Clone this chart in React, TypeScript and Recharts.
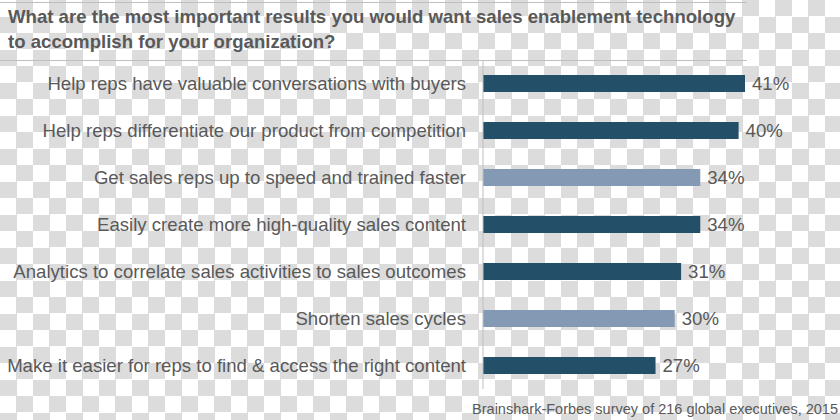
import React from 'react';
import { Bar, BarChart, Cell, LabelList, XAxis, YAxis } from 'recharts';

const categories = [
    'Help reps have valuable conversations with buyers',
    'Help reps differentiate our product from competition',
    'Get sales reps up to speed and trained faster',
    'Easily create more high-quality sales content',
    'Analytics to correlate sales activities to sales outcomes',
    'Shorten sales cycles',
    'Make it easier for reps to find & access the right content',
];
const shares = [41, 40, 34, 34, 31, 30, 27];
const lightRows = ['Get sales reps up to speed and trained faster', 'Shorten sales cycles'];

const titleLines = [
    'What are the most important results you would want sales enablement technology',
    'to accomplish for your organization?',
];
const sourceNote = 'Brainshark-Forbes survey of 216 global executives, 2015';

const DARK = '#244f69';
const LIGHT = '#8499b3';
const TEXT = '#595959';
const RULE = '#bfbfbf';
const FONT = '"Liberation Sans", Arial, sans-serif';

const data = categories.map((name, i) => ({ name, value: shares[i] }));

const App = () => {
    return (
        <div
            style={{
                position: 'relative',
                width: 840,
                height: 420,
                overflow: 'hidden',
                fontFamily: FONT,
                backgroundColor: '#ffffff',
                backgroundImage:
                    'repeating-conic-gradient(#dcdcdc 0% 25%, #ffffff 0% 50%)',
                backgroundSize: '33px 33px',
            }}
        >
            <style>{'body{margin:0}'}</style>
            <div style={{ position: 'absolute', left: 0, top: 2, width: 747, height: 1, background: RULE }} />
            <div style={{ position: 'absolute', left: 0, top: 60, width: 747, height: 1, background: RULE }} />
            <div
                style={{
                    position: 'absolute',
                    left: 8,
                    top: 4,
                    fontSize: 18.6,
                    fontWeight: 'bold',
                    lineHeight: '25px',
                    color: TEXT,
                    whiteSpace: 'nowrap',
                }}
            >
                {titleLines.map((line) => (
                    <div key={line}>{line}</div>
                ))}
            </div>
            <div style={{ position: 'absolute', left: 0, top: 0 }}>
                <BarChart
                    width={840}
                    height={420}
                    layout="vertical"
                    data={data}
                    margin={{ top: 60, right: 95, bottom: 31, left: 0 }}
                    barSize={17}
                >
                    <XAxis type="number" domain={[0, 41]} hide />
                    <YAxis
                        type="category"
                        dataKey="name"
                        width={483}
                        tickLine={false}
                        tickMargin={11}
                        axisLine={{ stroke: RULE }}
                        interval={0}
                        tick={{ fill: TEXT, fontSize: 18.6, fontFamily: FONT }}
                    />
                    <Bar dataKey="value" isAnimationActive={false}>
                        {data.map((d) => (
                            <Cell key={d.name} fill={lightRows.includes(d.name) ? LIGHT : DARK} />
                        ))}
                        <LabelList
                            dataKey="value"
                            position="right"
                            offset={7}
                            formatter={(v: number) => `${v}%`}
                            style={{ fill: TEXT, fontSize: 18.6, fontFamily: FONT }}
                        />
                    </Bar>
                </BarChart>
            </div>
            <div
                style={{
                    position: 'absolute',
                    right: 2,
                    top: 401,
                    fontSize: 14.5,
                    color: TEXT,
                    whiteSpace: 'nowrap',
                }}
            >
                {sourceNote}
            </div>
        </div>
    );
};

export default App;
